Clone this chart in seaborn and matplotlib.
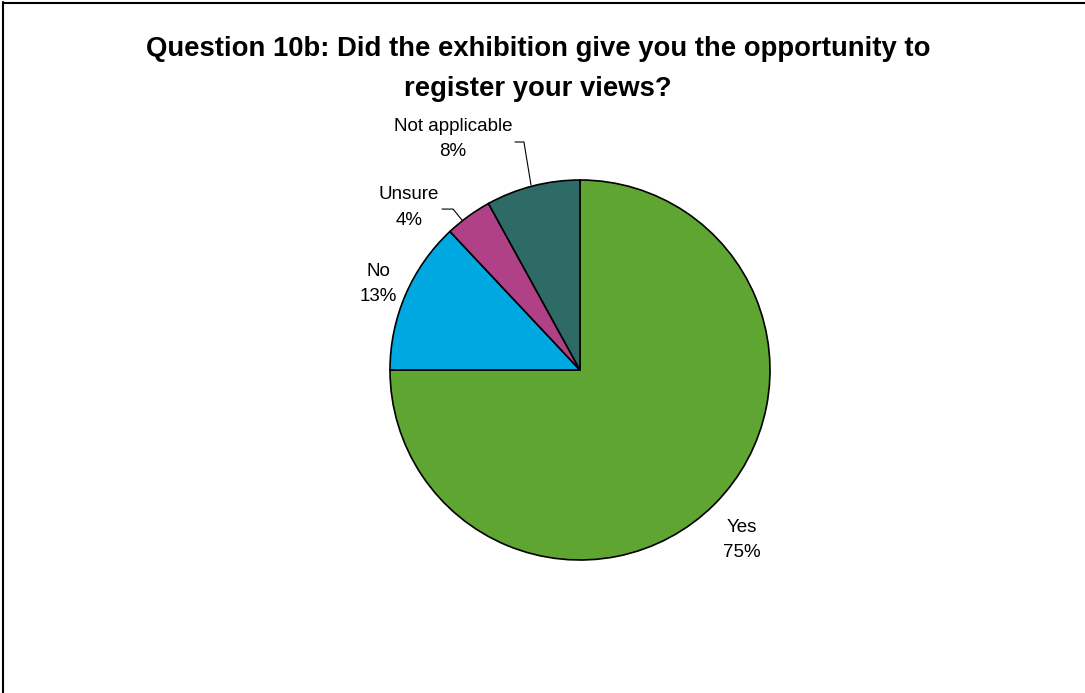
import matplotlib
matplotlib.use("Agg")
import matplotlib.pyplot as plt
import seaborn as sns

sns.set_theme(style="white")
plt.rcParams['font.family'] = ['Liberation Sans', 'DejaVu Sans']
plt.rcParams['text.color'] = 'black'

categories = ["Yes", "No", "Unsure", "Not applicable"]
values = [75, 13, 4, 8]
colors = ["#5EA532", "#00A8E2", "#B04187", "#2F6B66"]
title = "Question 10b: Did the exhibition give you the opportunity to\nregister your views?"

fig = plt.figure(figsize=(10.85, 6.93), dpi=100)
fig.patch.set_facecolor("white")
# pie axes: center (580,370) px, radius 190 px
W, H = 1085, 693
cx, cy, r = 580, 370, 190
ax = fig.add_axes([(cx - r * 1.6) / W, 1 - (cy + r * 1.6) / H, r * 3.2 / W, r * 3.2 / H])
wedges, _ = ax.pie(values, colors=colors, startangle=90, counterclock=False,
                   radius=1.0, wedgeprops=dict(edgecolor="black", linewidth=1.2))
ax.set_xlim(-1.6, 1.6)
ax.set_ylim(-1.6, 1.6)
ax.set_aspect("equal")
ax.axis("off")

label_pos = [(0.853, -0.895), (-1.063, 0.453), (-0.9, 0.855), (-0.668, 1.216)]
for cat, v, (lx, ly) in zip(categories, values, label_pos):
    ax.text(lx, ly, f"{cat}\n{v}%", ha="center", va="center", fontsize=13.5,
            color="black", linespacing=1.65)

# leader lines (Unsure, Not applicable)
ax.plot([-0.726, -0.668, -0.621], [0.847, 0.847, 0.789], color="black", lw=0.8)
ax.plot([-0.342, -0.295, -0.258], [1.200, 1.200, 0.974], color="black", lw=0.8)

fig.text(538 / W, 1 - 69 / H, title, ha="center", va="center", fontsize=19.8,
         fontweight="bold", linespacing=1.68, color="black")

# outer frame (top and left visible)
fig.add_artist(plt.Line2D([3 / W, 3 / W], [0, 1 - 2 / H], color="black", lw=1.5,
                          transform=fig.transFigure))
fig.add_artist(plt.Line2D([3 / W, 1], [1 - 2.5 / H, 1 - 2.5 / H], color="black", lw=1.5,
                          transform=fig.transFigure))

fig.savefig("out.png", dpi=100)
